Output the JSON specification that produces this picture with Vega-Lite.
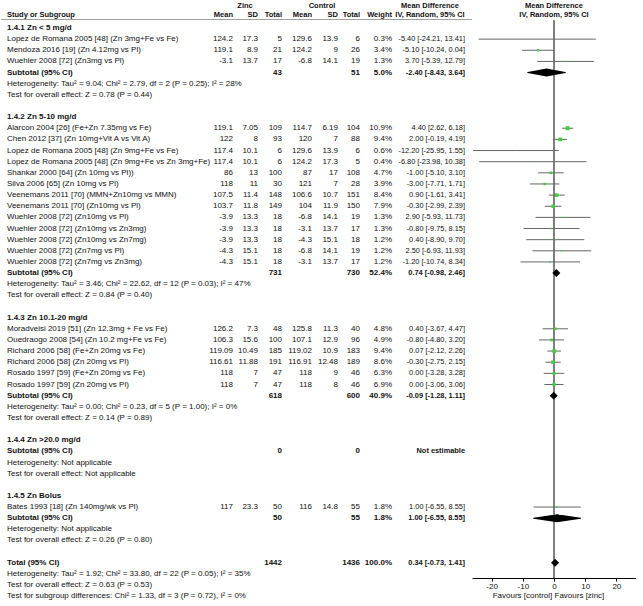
{
 "$schema": "https://vega.github.io/schema/vega-lite/v6.json",
 "padding": 0,
 "spacing": 0,
 "bounds": "flush",
 "background": "white",
 "resolve": {"scale": {"y": "independent", "x": "independent"}},
 "config": {
  "view": {"stroke": null},
  "text": {"font": "Liberation Sans, Arial, sans-serif", "fontSize": 8, "color": "#111"}
 },
 "data": {"values": [
  {"i": -2, "k": "header", "zs": "Zinc", "cs": "Control", "ci": "Mean Difference"},
  {"i": -1, "k": "header", "t": "Study or Subgroup", "zm": "Mean", "zs": "SD", "zn": "Total", "cm": "Mean", "cs": "SD", "cn": "Total", "w": "Weight", "ci": "IV, Random, 95% CI"},
  {"i": 0, "k": "group", "t": "1.4.1 Zn < 5 mg/d"},
  {"i": 1, "k": "study", "t": "Lopez de Romana 2005 [48] (Zn 3mg+Fe vs Fe)", "zm": "124.2", "zs": "17.3", "zn": "5", "cm": "129.6", "cs": "13.9", "cn": "6", "w": "0.3%", "ci": "-5.40 [-24.21, 13.41]", "e": -5.40, "l": -24.21, "h": 13.41, "wt": 0.3},
  {"i": 2, "k": "study", "t": "Mendoza 2016 [19] (Zn 4.12mg vs Pl)", "zm": "119.1", "zs": "8.9", "zn": "21", "cm": "124.2", "cs": "9", "cn": "26", "w": "3.4%", "ci": "-5.10 [-10.24, 0.04]", "e": -5.10, "l": -10.24, "h": 0.04, "wt": 3.4},
  {"i": 3, "k": "study", "t": "Wuehler 2008 [72] (Zn3mg vs Pl)", "zm": "-3.1", "zs": "13.7", "zn": "17", "cm": "-6.8", "cs": "14.1", "cn": "19", "w": "1.3%", "ci": "3.70 [-5.39, 12.79]", "e": 3.70, "l": -5.39, "h": 12.79, "wt": 1.3},
  {"i": 4, "k": "subtotal", "t": "Subtotal (95% CI)", "zn": "43", "cn": "51", "w": "5.0%", "ci": "-2.40 [-8.43, 3.64]", "e": -2.40, "l": -8.43, "h": 3.64},
  {"i": 5, "k": "note", "t": "Heterogeneity: Tau² = 9.04; Chi² = 2.79, df = 2 (P = 0.25); I² = 28%"},
  {"i": 6, "k": "note", "t": "Test for overall effect: Z = 0.78 (P = 0.44)"},
  {"i": 8, "k": "group", "t": "1.4.2 Zn 5-10 mg/d"},
  {"i": 9, "k": "study", "t": "Alarcon 2004 [26] (Fe+Zn 7.35mg vs Fe)", "zm": "119.1", "zs": "7.05", "zn": "109", "cm": "114.7", "cs": "6.19", "cn": "104", "w": "10.9%", "ci": "4.40 [2.62, 6.18]", "e": 4.40, "l": 2.62, "h": 6.18, "wt": 10.9},
  {"i": 10, "k": "study", "t": "Chen 2012 [37] (Zn 10mg+Vit A vs Vit A)", "zm": "122", "zs": "8", "zn": "93", "cm": "120", "cs": "7", "cn": "88", "w": "9.4%", "ci": "2.00 [-0.19, 4.19]", "e": 2.00, "l": -0.19, "h": 4.19, "wt": 9.4},
  {"i": 11, "k": "study", "t": "Lopez de Romana 2005 [48] (Zn 9mg+Fe vs Fe)", "zm": "117.4", "zs": "10.1", "zn": "6", "cm": "129.6", "cs": "13.9", "cn": "6", "w": "0.6%", "ci": "-12.20 [-25.95, 1.55]", "e": -12.20, "l": -25.95, "h": 1.55, "wt": 0.6},
  {"i": 12, "k": "study", "t": "Lopez de Romana 2005 [48] (Zn 9mg+Fe vs Zn 3mg+Fe)", "zm": "117.4", "zs": "10.1", "zn": "6", "cm": "124.2", "cs": "17.3", "cn": "5", "w": "0.4%", "ci": "-6.80 [-23.98, 10.38]", "e": -6.80, "l": -23.98, "h": 10.38, "wt": 0.4},
  {"i": 13, "k": "study", "t": "Shankar 2000 [64] (Zn 10mg vs Pl))", "zm": "86", "zs": "13", "zn": "100", "cm": "87", "cs": "17", "cn": "108", "w": "4.7%", "ci": "-1.00 [-5.10, 3.10]", "e": -1.00, "l": -5.10, "h": 3.10, "wt": 4.7},
  {"i": 14, "k": "study", "t": "Silva 2006 [65] (Zn 10mg vs Pl)", "zm": "118", "zs": "11", "zn": "30", "cm": "121", "cs": "7", "cn": "28", "w": "3.9%", "ci": "-3.00 [-7.71, 1.71]", "e": -3.00, "l": -7.71, "h": 1.71, "wt": 3.9},
  {"i": 15, "k": "study", "t": "Veenemans 2011 [70] (MMN+Zn10mg vs MMN)", "zm": "107.5", "zs": "11.4", "zn": "148", "cm": "106.6", "cs": "10.7", "cn": "151", "w": "8.4%", "ci": "0.90 [-1.61, 3.41]", "e": 0.90, "l": -1.61, "h": 3.41, "wt": 8.4},
  {"i": 16, "k": "study", "t": "Veenemans 2011 [70] (Zn10mg vs Pl)", "zm": "103.7", "zs": "11.8", "zn": "149", "cm": "104", "cs": "11.9", "cn": "150", "w": "7.9%", "ci": "-0.30 [-2.99, 2.39]", "e": -0.30, "l": -2.99, "h": 2.39, "wt": 7.9},
  {"i": 17, "k": "study", "t": "Wuehler 2008 [72] (Zn10mg vs Pl)", "zm": "-3.9", "zs": "13.3", "zn": "18", "cm": "-6.8", "cs": "14.1", "cn": "19", "w": "1.3%", "ci": "2.90 [-5.93, 11.73]", "e": 2.90, "l": -5.93, "h": 11.73, "wt": 1.3},
  {"i": 18, "k": "study", "t": "Wuehler 2008 [72] (Zn10mg vs Zn3mg)", "zm": "-3.9", "zs": "13.3", "zn": "18", "cm": "-3.1", "cs": "13.7", "cn": "17", "w": "1.3%", "ci": "-0.80 [-9.75, 8.15]", "e": -0.80, "l": -9.75, "h": 8.15, "wt": 1.3},
  {"i": 19, "k": "study", "t": "Wuehler 2008 [72] (Zn10mg vs Zn7mg)", "zm": "-3.9", "zs": "13.3", "zn": "18", "cm": "-4.3", "cs": "15.1", "cn": "18", "w": "1.2%", "ci": "0.40 [-8.90, 9.70]", "e": 0.40, "l": -8.90, "h": 9.70, "wt": 1.2},
  {"i": 20, "k": "study", "t": "Wuehler 2008 [72] (Zn7mg vs Pl)", "zm": "-4.3", "zs": "15.1", "zn": "18", "cm": "-6.8", "cs": "14.1", "cn": "19", "w": "1.2%", "ci": "2.50 [-6.93, 11.93]", "e": 2.50, "l": -6.93, "h": 11.93, "wt": 1.2},
  {"i": 21, "k": "study", "t": "Wuehler 2008 [72] (Zn7mg vs Zn3mg)", "zm": "-4.3", "zs": "15.1", "zn": "18", "cm": "-3.1", "cs": "13.7", "cn": "17", "w": "1.2%", "ci": "-1.20 [-10.74, 8.34]", "e": -1.20, "l": -10.74, "h": 8.34, "wt": 1.2},
  {"i": 22, "k": "subtotal", "t": "Subtotal (95% CI)", "zn": "731", "cn": "730", "w": "52.4%", "ci": "0.74 [-0.98, 2.46]", "e": 0.74, "l": -0.98, "h": 2.46},
  {"i": 23, "k": "note", "t": "Heterogeneity: Tau² = 3.46; Chi² = 22.62, df = 12 (P = 0.03); I² = 47%"},
  {"i": 24, "k": "note", "t": "Test for overall effect: Z = 0.84 (P = 0.40)"},
  {"i": 26, "k": "group", "t": "1.4.3 Zn 10.1-20 mg/d"},
  {"i": 27, "k": "study", "t": "Moradveisi 2019 [51] (Zn 12.3mg + Fe vs Fe)", "zm": "126.2", "zs": "7.3", "zn": "48", "cm": "125.8", "cs": "11.3", "cn": "40", "w": "4.8%", "ci": "0.40 [-3.67, 4.47]", "e": 0.40, "l": -3.67, "h": 4.47, "wt": 4.8},
  {"i": 28, "k": "study", "t": "Ouedraogo 2008 [54] (Zn 10.2 mg+Fe vs Fe)", "zm": "106.3", "zs": "15.6", "zn": "100", "cm": "107.1", "cs": "12.9", "cn": "96", "w": "4.9%", "ci": "-0.80 [-4.80, 3.20]", "e": -0.80, "l": -4.80, "h": 3.20, "wt": 4.9},
  {"i": 29, "k": "study", "t": "Richard 2006 [58] (Fe+Zn 20mg vs Fe)", "zm": "119.09", "zs": "10.49", "zn": "185", "cm": "119.02", "cs": "10.9", "cn": "183", "w": "9.4%", "ci": "0.07 [-2.12, 2.26]", "e": 0.07, "l": -2.12, "h": 2.26, "wt": 9.4},
  {"i": 30, "k": "study", "t": "Richard 2006 [58] (Zn 20mg vs Pl)", "zm": "116.61", "zs": "11.88", "zn": "191", "cm": "116.91", "cs": "12.48", "cn": "189", "w": "8.6%", "ci": "-0.30 [-2.75, 2.15]", "e": -0.30, "l": -2.75, "h": 2.15, "wt": 8.6},
  {"i": 31, "k": "study", "t": "Rosado 1997 [59] (Fe+Zn 20mg vs Fe)", "zm": "118", "zs": "7", "zn": "47", "cm": "118", "cs": "9", "cn": "46", "w": "6.3%", "ci": "0.00 [-3.28, 3.28]", "e": 0.00, "l": -3.28, "h": 3.28, "wt": 6.3},
  {"i": 32, "k": "study", "t": "Rosado 1997 [59] (Zn 20mg vs Pl)", "zm": "118", "zs": "7", "zn": "47", "cm": "118", "cs": "8", "cn": "46", "w": "6.9%", "ci": "0.00 [-3.06, 3.06]", "e": 0.00, "l": -3.06, "h": 3.06, "wt": 6.9},
  {"i": 33, "k": "subtotal", "t": "Subtotal (95% CI)", "zn": "618", "cn": "600", "w": "40.9%", "ci": "-0.09 [-1.28, 1.11]", "e": -0.09, "l": -1.28, "h": 1.11},
  {"i": 34, "k": "note", "t": "Heterogeneity: Tau² = 0.00; Chi² = 0.23, df = 5 (P = 1.00); I² = 0%"},
  {"i": 35, "k": "note", "t": "Test for overall effect: Z = 0.14 (P = 0.89)"},
  {"i": 37, "k": "group", "t": "1.4.4 Zn >20.0 mg/d"},
  {"i": 38, "k": "subtotal", "t": "Subtotal (95% CI)", "zn": "0", "cn": "0", "ci": "Not estimable"},
  {"i": 39, "k": "note", "t": "Heterogeneity: Not applicable"},
  {"i": 40, "k": "note", "t": "Test for overall effect: Not applicable"},
  {"i": 42, "k": "group", "t": "1.4.5 Zn Bolus"},
  {"i": 43, "k": "study", "t": "Bates 1993 [18] (Zn 140mg/wk vs Pl)", "zm": "117", "zs": "23.3", "zn": "50", "cm": "116", "cs": "14.8", "cn": "55", "w": "1.8%", "ci": "1.00 [-6.55, 8.55]", "e": 1.00, "l": -6.55, "h": 8.55, "wt": 1.8},
  {"i": 44, "k": "subtotal", "t": "Subtotal (95% CI)", "zn": "50", "cn": "55", "w": "1.8%", "ci": "1.00 [-6.55, 8.55]", "e": 1.00, "l": -6.55, "h": 8.55},
  {"i": 45, "k": "note", "t": "Heterogeneity: Not applicable"},
  {"i": 46, "k": "note", "t": "Test for overall effect: Z = 0.26 (P = 0.80)"},
  {"i": 48, "k": "total", "t": "Total (95% CI)", "zn": "1442", "cn": "1436", "w": "100.0%", "ci": "0.34 [-0.73, 1.41]", "e": 0.34, "l": -0.73, "h": 1.41},
  {"i": 49, "k": "note", "t": "Heterogeneity: Tau² = 1.92; Chi² = 33.80, df = 22 (P = 0.05); I² = 35%"},
  {"i": 50, "k": "note", "t": "Test for overall effect: Z = 0.63 (P = 0.53)"},
  {"i": 51, "k": "note", "t": "Test for subgroup differences: Chi² = 1.33, df = 3 (P = 0.72), I² = 0%"}
 ]},
 "hconcat": [
  {"width": 205, "height": 606, "layer": [
   {"transform": [{"filter": "isValid(datum.t)"}], "mark": {"type": "text", "align": "left", "dx": 6, "dy": {"expr": "datum.i == -1 ? -2 : 0"}, "fontSize": {"expr": "datum.i < 0 ? 7.5 : 8"}, "fontWeight": {"expr": "datum.k == 'study' || datum.k == 'note' ? 'normal' : 'bold'"}}, "encoding": {"x": {"value": 0}, "y": {"field": "i", "type": "quantitative", "scale": {"domain": [-2.513, 51.88], "reverse": true, "nice": false, "zero": false}, "axis": null}, "text": {"field": "t", "type": "nominal"}}},
   {"transform": [{"filter": "datum.i == -1"}], "mark": {"type": "rule", "color": "#a0a0a0"}, "encoding": {"x": {"value": 0}, "x2": {"value": "width"}, "y": {"datum": -0.76, "type": "quantitative", "scale": {"domain": [-2.513, 51.88], "reverse": true, "nice": false, "zero": false}, "axis": null}}}
  ]},
  {"width": 27, "height": 606, "layer": [
   {"transform": [{"filter": "datum.i >= -1 && isValid(datum.zm)"}], "mark": {"type": "text", "align": "right", "dy": {"expr": "datum.i == -1 ? -2 : 0"}, "fontSize": {"expr": "datum.i < 0 ? 7.5 : 8"}, "fontWeight": {"expr": "datum.k == 'study' || datum.k == 'note' ? 'normal' : 'bold'"}}, "encoding": {"x": {"value": "width"}, "y": {"field": "i", "type": "quantitative", "scale": {"domain": [-2.513, 51.88], "reverse": true, "nice": false, "zero": false}, "axis": null}, "text": {"field": "zm", "type": "nominal"}}},
   {"transform": [{"filter": "datum.i == -1"}], "mark": {"type": "rule", "color": "#a0a0a0"}, "encoding": {"x": {"value": 0}, "x2": {"value": "width"}, "y": {"datum": -0.76, "type": "quantitative", "scale": {"domain": [-2.513, 51.88], "reverse": true, "nice": false, "zero": false}, "axis": null}}}
  ]},
  {"width": 25, "height": 606, "layer": [
   {"transform": [{"filter": "datum.i >= -1 && isValid(datum.zs)"}], "mark": {"type": "text", "align": "right", "dy": {"expr": "datum.i == -1 ? -2 : 0"}, "fontSize": {"expr": "datum.i < 0 ? 7.5 : 8"}, "fontWeight": {"expr": "datum.k == 'study' || datum.k == 'note' ? 'normal' : 'bold'"}}, "encoding": {"x": {"value": "width"}, "y": {"field": "i", "type": "quantitative", "scale": {"domain": [-2.513, 51.88], "reverse": true, "nice": false, "zero": false}, "axis": null}, "text": {"field": "zs", "type": "nominal"}}},
   {"transform": [{"filter": "datum.i == -2"}], "mark": {"type": "text", "align": "center", "fontWeight": "bold", "fontSize": 7.5, "dx": -13}, "encoding": {"x": {"value": "width"}, "y": {"field": "i", "type": "quantitative", "scale": {"domain": [-2.513, 51.88], "reverse": true, "nice": false, "zero": false}, "axis": null}, "text": {"field": "zs", "type": "nominal"}}},
   {"transform": [{"filter": "datum.i == -1"}], "mark": {"type": "rule", "color": "#a0a0a0"}, "encoding": {"x": {"value": 0}, "x2": {"value": "width"}, "y": {"datum": -0.76, "type": "quantitative", "scale": {"domain": [-2.513, 51.88], "reverse": true, "nice": false, "zero": false}, "axis": null}}}
  ]},
  {"width": 24, "height": 606, "layer": [
   {"transform": [{"filter": "datum.i >= -1 && isValid(datum.zn)"}], "mark": {"type": "text", "align": "right", "dy": {"expr": "datum.i == -1 ? -2 : 0"}, "fontSize": {"expr": "datum.i < 0 ? 7.5 : 8"}, "fontWeight": {"expr": "datum.k == 'study' || datum.k == 'note' ? 'normal' : 'bold'"}}, "encoding": {"x": {"value": "width"}, "y": {"field": "i", "type": "quantitative", "scale": {"domain": [-2.513, 51.88], "reverse": true, "nice": false, "zero": false}, "axis": null}, "text": {"field": "zn", "type": "nominal"}}},
   {"transform": [{"filter": "datum.i == -1"}], "mark": {"type": "rule", "color": "#a0a0a0"}, "encoding": {"x": {"value": 0}, "x2": {"value": "width"}, "y": {"datum": -0.76, "type": "quantitative", "scale": {"domain": [-2.513, 51.88], "reverse": true, "nice": false, "zero": false}, "axis": null}}}
  ]},
  {"width": 30, "height": 606, "layer": [
   {"transform": [{"filter": "datum.i >= -1 && isValid(datum.cm)"}], "mark": {"type": "text", "align": "right", "dy": {"expr": "datum.i == -1 ? -2 : 0"}, "fontSize": {"expr": "datum.i < 0 ? 7.5 : 8"}, "fontWeight": {"expr": "datum.k == 'study' || datum.k == 'note' ? 'normal' : 'bold'"}}, "encoding": {"x": {"value": "width"}, "y": {"field": "i", "type": "quantitative", "scale": {"domain": [-2.513, 51.88], "reverse": true, "nice": false, "zero": false}, "axis": null}, "text": {"field": "cm", "type": "nominal"}}},
   {"transform": [{"filter": "datum.i == -1"}], "mark": {"type": "rule", "color": "#a0a0a0"}, "encoding": {"x": {"value": 0}, "x2": {"value": "width"}, "y": {"datum": -0.76, "type": "quantitative", "scale": {"domain": [-2.513, 51.88], "reverse": true, "nice": false, "zero": false}, "axis": null}}}
  ]},
  {"width": 26, "height": 606, "layer": [
   {"transform": [{"filter": "datum.i >= -1 && isValid(datum.cs)"}], "mark": {"type": "text", "align": "right", "dy": {"expr": "datum.i == -1 ? -2 : 0"}, "fontSize": {"expr": "datum.i < 0 ? 7.5 : 8"}, "fontWeight": {"expr": "datum.k == 'study' || datum.k == 'note' ? 'normal' : 'bold'"}}, "encoding": {"x": {"value": "width"}, "y": {"field": "i", "type": "quantitative", "scale": {"domain": [-2.513, 51.88], "reverse": true, "nice": false, "zero": false}, "axis": null}, "text": {"field": "cs", "type": "nominal"}}},
   {"transform": [{"filter": "datum.i == -2"}], "mark": {"type": "text", "align": "center", "fontWeight": "bold", "fontSize": 7.5, "dx": -16}, "encoding": {"x": {"value": "width"}, "y": {"field": "i", "type": "quantitative", "scale": {"domain": [-2.513, 51.88], "reverse": true, "nice": false, "zero": false}, "axis": null}, "text": {"field": "cs", "type": "nominal"}}},
   {"transform": [{"filter": "datum.i == -1"}], "mark": {"type": "rule", "color": "#a0a0a0"}, "encoding": {"x": {"value": 0}, "x2": {"value": "width"}, "y": {"datum": -0.76, "type": "quantitative", "scale": {"domain": [-2.513, 51.88], "reverse": true, "nice": false, "zero": false}, "axis": null}}}
  ]},
  {"width": 22, "height": 606, "layer": [
   {"transform": [{"filter": "datum.i >= -1 && isValid(datum.cn)"}], "mark": {"type": "text", "align": "right", "dy": {"expr": "datum.i == -1 ? -2 : 0"}, "fontSize": {"expr": "datum.i < 0 ? 7.5 : 8"}, "fontWeight": {"expr": "datum.k == 'study' || datum.k == 'note' ? 'normal' : 'bold'"}}, "encoding": {"x": {"value": "width"}, "y": {"field": "i", "type": "quantitative", "scale": {"domain": [-2.513, 51.88], "reverse": true, "nice": false, "zero": false}, "axis": null}, "text": {"field": "cn", "type": "nominal"}}},
   {"transform": [{"filter": "datum.i == -1"}], "mark": {"type": "rule", "color": "#a0a0a0"}, "encoding": {"x": {"value": 0}, "x2": {"value": "width"}, "y": {"datum": -0.76, "type": "quantitative", "scale": {"domain": [-2.513, 51.88], "reverse": true, "nice": false, "zero": false}, "axis": null}}}
  ]},
  {"width": 32, "height": 606, "layer": [
   {"transform": [{"filter": "datum.i >= -1 && isValid(datum.w)"}], "mark": {"type": "text", "align": "right", "dy": {"expr": "datum.i == -1 ? -2 : 0"}, "fontSize": {"expr": "datum.i < 0 ? 7.5 : 8"}, "fontWeight": {"expr": "datum.k == 'study' || datum.k == 'note' ? 'normal' : 'bold'"}}, "encoding": {"x": {"value": "width"}, "y": {"field": "i", "type": "quantitative", "scale": {"domain": [-2.513, 51.88], "reverse": true, "nice": false, "zero": false}, "axis": null}, "text": {"field": "w", "type": "nominal"}}},
   {"transform": [{"filter": "datum.i == -1"}], "mark": {"type": "rule", "color": "#a0a0a0"}, "encoding": {"x": {"value": 0}, "x2": {"value": "width"}, "y": {"datum": -0.76, "type": "quantitative", "scale": {"domain": [-2.513, 51.88], "reverse": true, "nice": false, "zero": false}, "axis": null}}}
  ]},
  {"width": 80, "height": 606, "layer": [
   {"transform": [{"filter": "datum.i >= 0 && isValid(datum.ci)"}], "mark": {"type": "text", "align": "right", "dx": -7, "fontSize": 7.4, "fontWeight": {"expr": "datum.k == 'study' || datum.k == 'note' ? 'normal' : 'bold'"}}, "encoding": {"x": {"value": "width"}, "y": {"field": "i", "type": "quantitative", "scale": {"domain": [-2.513, 51.88], "reverse": true, "nice": false, "zero": false}, "axis": null}, "text": {"field": "ci", "type": "nominal"}}},
   {"transform": [{"filter": "datum.i < 0"}], "mark": {"type": "text", "align": "center", "fontWeight": "bold", "fontSize": 7.5, "dx": -42, "dy": {"expr": "datum.i == -1 ? -2 : 0"}}, "encoding": {"x": {"value": "width"}, "y": {"field": "i", "type": "quantitative", "scale": {"domain": [-2.513, 51.88], "reverse": true, "nice": false, "zero": false}, "axis": null}, "text": {"field": "ci", "type": "nominal"}}},
   {"transform": [{"filter": "datum.i == -1"}], "mark": {"type": "rule", "color": "#a0a0a0"}, "encoding": {"x": {"value": 0}, "x2": {"value": "width"}, "y": {"datum": -0.76, "type": "quantitative", "scale": {"domain": [-2.513, 51.88], "reverse": true, "nice": false, "zero": false}, "axis": null}}}
  ]},
  {"width": 164, "height": 578, "layer": [
   {"transform": [{"filter": "datum.i < 0"}], "mark": {"type": "text", "align": "center", "fontWeight": "bold", "fontSize": 7.5, "dy": {"expr": "datum.i == -1 ? -2 : 0"}},
    "encoding": {
     "x": {"datum": 0, "type": "quantitative", "scale": {"domain": [-26.3, 26.3], "nice": false, "zero": false},
       "axis": {"values": [-20, -10, 0, 10, 20], "labelExpr": "replace(datum.label, '\u2212', '-')", "title": "Favours [control]   Favours [zinc]", "titleFontWeight": "normal", "titleFontSize": 8, "titleFont": "Liberation Sans, Arial, sans-serif", "titleColor": "#111", "titlePadding": 1, "titleX": 76, "labelFont": "Liberation Sans, Arial, sans-serif", "labelFontSize": 8, "labelColor": "#111", "labelPadding": 1, "tickSize": 3, "tickColor": "#000", "domainColor": "#000", "grid": false, "labelFlush": false}},
     "y": {"field": "i", "type": "quantitative", "scale": {"domain": [-2.513, 49.37], "reverse": true, "nice": false, "zero": false}, "axis": null},
     "text": {"field": "ci", "type": "nominal"}}},
   {"transform": [{"filter": "datum.i == -1"}], "mark": {"type": "rule", "color": "#000"}, "encoding": {"x": {"datum": 0, "type": "quantitative"}, "y": {"datum": -0.7, "type": "quantitative"}, "y2": {"datum": 49.37}}},
   {"transform": [{"filter": "datum.k == 'study'"}], "mark": {"type": "rule", "color": "#666"}, "encoding": {"x": {"field": "l", "type": "quantitative"}, "x2": {"field": "h"}, "y": {"field": "i", "type": "quantitative"}}},
   {"transform": [{"filter": "datum.k == 'study'"}], "mark": {"type": "square", "filled": true, "color": "#3ccf3c", "opacity": 1}, "encoding": {"x": {"field": "e", "type": "quantitative"}, "y": {"field": "i", "type": "quantitative"}, "size": {"field": "wt", "type": "quantitative", "scale": {"domain": [0, 11], "range": [0, 16]}, "legend": null}}},
   {"transform": [{"filter": "(datum.k == 'subtotal' || datum.k == 'total') && isValid(datum.e) && datum.h - datum.l >= 4"}, {"fold": ["l", "e", "h"], "as": ["p", "v"]}], "mark": {"type": "trail", "color": "#000"}, "encoding": {"x": {"field": "v", "type": "quantitative"}, "y": {"field": "i", "type": "quantitative"}, "detail": {"field": "i", "type": "nominal"}, "order": {"field": "v", "type": "quantitative"}, "size": {"condition": {"test": "datum.p == 'e'", "value": 8}, "value": 0}}},
   {"transform": [{"filter": "(datum.k == 'subtotal' || datum.k == 'total') && isValid(datum.e) && datum.h - datum.l < 4"}], "mark": {"type": "point", "shape": "diamond", "filled": true, "color": "#000", "opacity": 1, "size": 64}, "encoding": {"x": {"field": "e", "type": "quantitative"}, "y": {"field": "i", "type": "quantitative"}}}
  ]}
 ]
}
